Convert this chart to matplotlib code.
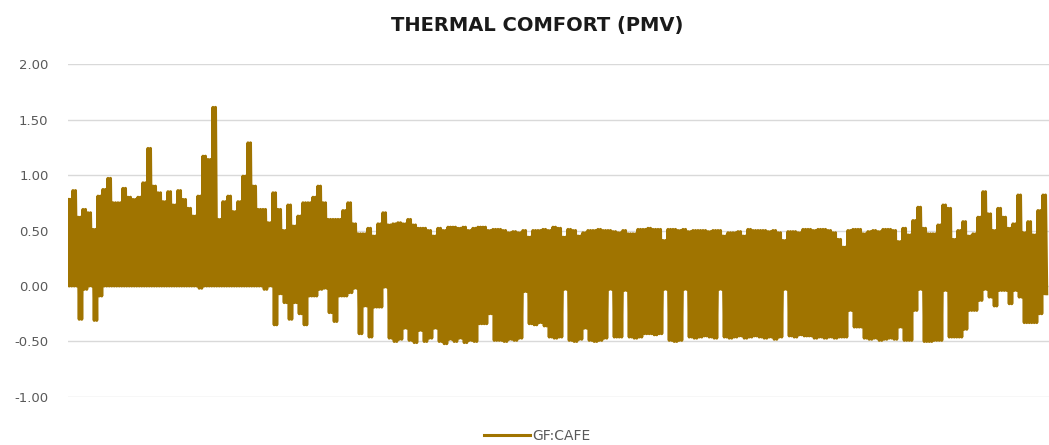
import numpy as np
import matplotlib
matplotlib.use("Agg")
import matplotlib.pyplot as plt

# PMV per period: peak value and lowest value
pmv_high = [
    0.78, 0.86, 0.62, 0.69, 0.66, 0.51, 0.81, 0.87, 0.97, 0.75,
    0.75, 0.88, 0.80, 0.78, 0.80, 0.93, 1.24, 0.90, 0.84, 0.76,
    0.85, 0.73, 0.86, 0.78, 0.70, 0.63, 0.81, 1.17, 1.14, 1.61,
    0.60, 0.76, 0.81, 0.67, 0.76, 0.99, 1.29, 0.90, 0.69, 0.69,
    0.57, 0.84, 0.69, 0.50, 0.73, 0.54, 0.63, 0.75, 0.75, 0.80,
    0.90, 0.75, 0.60, 0.60, 0.60, 0.68, 0.75, 0.56, 0.47, 0.47,
    0.52, 0.45, 0.56, 0.66, 0.55, 0.56, 0.57, 0.56, 0.60, 0.55,
    0.52, 0.52, 0.50, 0.45, 0.52, 0.50, 0.53, 0.53, 0.52, 0.53,
    0.50, 0.52, 0.53, 0.53, 0.50, 0.51, 0.51, 0.50, 0.48, 0.49,
    0.48, 0.50, 0.44, 0.50, 0.50, 0.51, 0.50, 0.53, 0.52, 0.44,
    0.51, 0.50, 0.45, 0.48, 0.50, 0.50, 0.51, 0.50, 0.50, 0.49,
    0.48, 0.50, 0.47, 0.47, 0.51, 0.51, 0.52, 0.51, 0.51, 0.41,
    0.51, 0.51, 0.50, 0.51, 0.49, 0.50, 0.50, 0.50, 0.49, 0.50,
    0.50, 0.45, 0.48, 0.48, 0.49, 0.45, 0.51, 0.50, 0.50, 0.50,
    0.49, 0.50, 0.48, 0.41, 0.49, 0.49, 0.48, 0.51, 0.51, 0.50,
    0.51, 0.51, 0.50, 0.48, 0.42, 0.35, 0.50, 0.51, 0.51, 0.47,
    0.49, 0.50, 0.49, 0.51, 0.51, 0.50, 0.40, 0.52, 0.46, 0.59,
    0.71, 0.52, 0.47, 0.47, 0.55, 0.73, 0.70, 0.42, 0.50, 0.58,
    0.45, 0.47, 0.62, 0.85, 0.65, 0.50, 0.70, 0.62, 0.52, 0.56,
    0.82, 0.48, 0.58, 0.46, 0.68, 0.82,
]
pmv_low = [
    0.00, 0.00, -0.30, -0.03, 0.00, -0.31, -0.09, 0.00, 0.00, 0.00,
    0.00, 0.00, 0.00, 0.00, 0.00, 0.00, 0.00, 0.00, 0.00, 0.00,
    0.00, 0.00, 0.00, 0.00, 0.00, 0.00, -0.02, 0.00, 0.00, 0.00,
    0.00, 0.00, 0.00, 0.00, 0.00, 0.00, 0.00, 0.00, 0.00, -0.03,
    0.00, -0.35, -0.07, -0.15, -0.30, -0.15, -0.25, -0.35, -0.09, -0.09,
    -0.03, -0.02, -0.24, -0.32, -0.09, -0.09, -0.06, -0.02, -0.43, -0.18,
    -0.46, -0.19, -0.19, -0.01, -0.47, -0.50, -0.48, -0.38, -0.49, -0.51,
    -0.40, -0.50, -0.47, -0.38, -0.50, -0.52, -0.48, -0.50, -0.47, -0.51,
    -0.49, -0.50, -0.34, -0.34, -0.25, -0.49, -0.49, -0.50, -0.48, -0.49,
    -0.47, -0.05, -0.34, -0.35, -0.33, -0.36, -0.46, -0.47, -0.46, -0.03,
    -0.49, -0.50, -0.48, -0.38, -0.49, -0.50, -0.49, -0.47, -0.03, -0.46,
    -0.46, -0.04, -0.46, -0.47, -0.46, -0.43, -0.43, -0.44, -0.43, -0.03,
    -0.49, -0.50, -0.49, -0.03, -0.46, -0.47, -0.46, -0.45, -0.46, -0.47,
    -0.03, -0.46, -0.47, -0.46, -0.45, -0.47, -0.46, -0.45, -0.46, -0.47,
    -0.46, -0.48, -0.46, -0.03, -0.45, -0.46, -0.44, -0.45, -0.45, -0.47,
    -0.46, -0.47, -0.46, -0.47, -0.46, -0.46, -0.22, -0.37, -0.37, -0.47,
    -0.48, -0.47, -0.49, -0.48, -0.47, -0.48, -0.37, -0.49, -0.49, -0.22,
    -0.03, -0.50, -0.50, -0.49, -0.49, -0.04, -0.46, -0.46, -0.46, -0.39,
    -0.22, -0.22, -0.13, -0.03, -0.10, -0.18, -0.04, -0.04, -0.16, -0.04,
    -0.10, -0.33, -0.33, -0.33, -0.25, -0.07,
]
y_ticks = [-1.0, -0.5, 0.0, 0.5, 1.0, 1.5, 2.0]
series_name = "GF:CAFE"

# the series swings between high and low twice in each period
swings = 2
pairs = np.column_stack([pmv_high, pmv_low])
pmv = np.tile(pairs, (1, swings)).ravel()
t = np.arange(len(pmv))

color = "#A07400"

fig = plt.figure(figsize=(10.49, 4.45), dpi=100)
ax = fig.add_axes([0.0648, 0.108, 0.9352, 0.748])

ax.plot(t, pmv, color=color, lw=2.2, label=series_name, zorder=3)

ax.set_xlim(0, len(pmv) + 0.8)
ax.set_ylim(-1.0, 2.0)
ax.set_yticks(y_ticks)
ax.set_yticklabels([f"{v:.2f}" for v in y_ticks], color="#595959", fontsize=9.5)
ax.set_xticks([])
ax.tick_params(axis="y", length=0, pad=14)
ax.grid(axis="y", color="#D9D9D9", lw=1.0, zorder=0)
for s in ax.spines.values():
    s.set_visible(False)

fig.suptitle("THERMAL COMFORT (PMV)", x=0.512, y=0.943, fontsize=14,
             fontweight="bold", color="#1a1a1a", va="center")

fig.legend(loc="center", bbox_to_anchor=(0.512, 0.021), frameon=False,
           fontsize=10, handlelength=3.3, handletextpad=0.15,
           labelcolor="#595959")

fig.savefig("out.png", dpi=100)
